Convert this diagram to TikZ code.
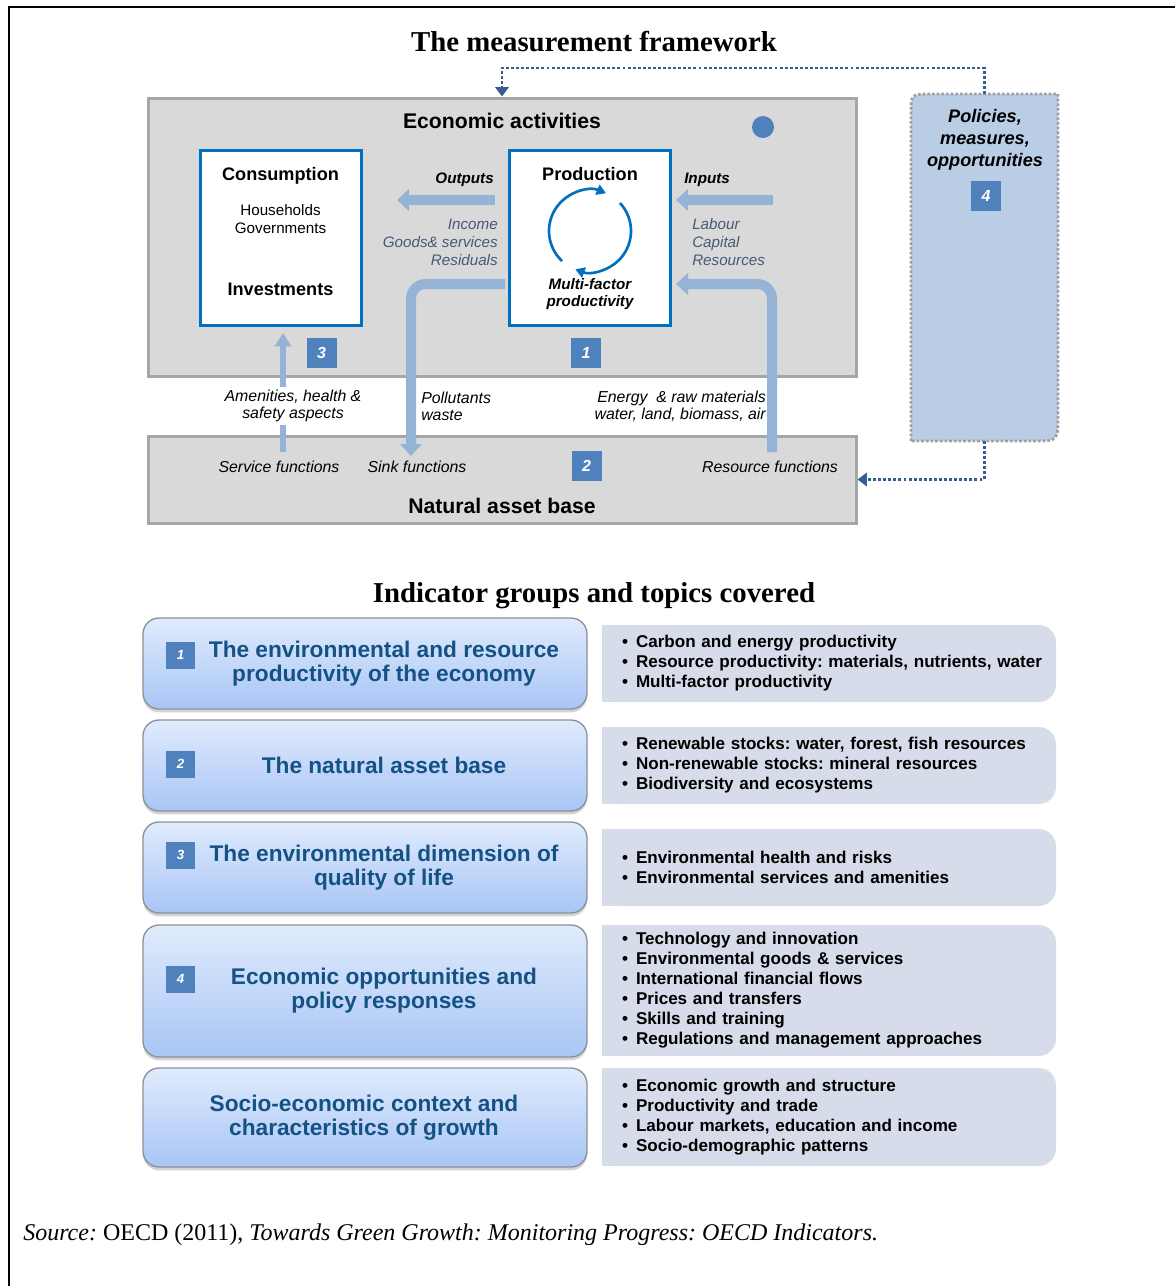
\documentclass[tikz,border=0pt]{standalone}
\usepackage{fontspec}
\setmainfont{Liberation Serif}
\setsansfont{Liberation Sans}
\usetikzlibrary{arrows.meta,shadows}
\frenchspacing

\definecolor{grigio}{RGB}{217,217,217}
\definecolor{bordogrigio}{RGB}{166,166,166}
\definecolor{bordoblu}{RGB}{0,112,192}
\definecolor{badgeblu}{RGB}{79,129,189}
\definecolor{frecce}{RGB}{149,179,215}
\definecolor{polfill}{RGB}{185,205,229}
\definecolor{polbordo}{RGB}{160,160,160}
\definecolor{linkblu}{RGB}{54,95,145}
\definecolor{testoblu}{RGB}{72,88,120}
\definecolor{gruppoblu}{RGB}{21,82,132}
\definecolor{gruppoalto}{RGB}{224,235,253}
\definecolor{gruppobasso}{RGB}{168,197,245}
\definecolor{bordogruppo}{RGB}{140,144,152}
\definecolor{temafill}{RGB}{214,220,233}

\newcommand{\punto}[1]{\mbox{\makebox[10.5pt][l]{•}#1}}

\tikzset{
    testo/.style={inner sep=0pt, font=\sffamily\fontsize{11.4}{13.5}\selectfont},
    testoit/.style={testo, font=\sffamily\itshape\fontsize{11.4}{13.5}\selectfont},
    testomedio/.style={testo, font=\sffamily\itshape\fontsize{11.9}{12.75}\selectfont},
    testobi/.style={testo, font=\sffamily\bfseries\itshape\fontsize{11.4}{12.75}\selectfont},
    nome/.style={testo, font=\sffamily\bfseries\fontsize{13.6}{16.5}\selectfont},
    intestazione/.style={testo, font=\sffamily\bfseries\fontsize{15.9}{19}\selectfont},
    titolo/.style={inner sep=0pt, font=\rmfamily\bfseries\fontsize{21.6}{26}\selectfont},
    riquadro/.style={draw=bordogrigio, line width=2.25pt, fill=grigio, minimum width=531pt},
    blocco/.style={draw=bordoblu, line width=2.25pt, fill=white, minimum width=120.75pt, minimum height=131.25pt},
    badge/.style={fill=badgeblu, text=white, minimum size=22.5pt, inner sep=0pt,
        font=\sffamily\bfseries\itshape\fontsize{12}{12}\selectfont},
    badgepiccolo/.style={badge, minimum size=0pt, minimum width=21.75pt, minimum height=20.25pt,
        font=\sffamily\bfseries\itshape\fontsize{10}{10}\selectfont},
    freccia/.style={frecce, line width=7.5pt, -{Triangle[width=16pt,length=9pt]}},
    freccina/.style={frecce, line width=4.5pt, -{Triangle[width=12pt,length=10pt]}},
    tubo/.style={freccia, rounded corners=11pt},
    ciclo/.style={bordoblu, line width=2pt, -{Triangle[width=8pt,length=7pt]}},
    puntini/.style={linkblu, line width=2.2pt, dash pattern=on 2.2pt off 1.6pt, -{Triangle[width=10pt,length=7pt]}},
    gruppo/.style={draw=bordogruppo, line width=1pt, rounded corners=12pt, top color=gruppoalto,
        bottom color=gruppobasso, minimum width=333pt,
        drop shadow={opacity=0.35, shadow xshift=0pt, shadow yshift=-2.5pt}},
    gruppotxt/.style={inner sep=0pt, align=center, text=gruppoblu, font=\sffamily\bfseries\fontsize{17}{18}\selectfont},
    tema/.style={fill=temafill, rounded corners=13pt, minimum width=340.5pt, inner xsep=15pt, text width=310.5pt,
        align=left, font=\sffamily\bfseries\fontsize{12.8}{15}\selectfont},
}

\begin{document}
\begin{tikzpicture}[x=0.75pt, y=-0.75pt]
    \useasboundingbox (0,0) rectangle (1175,1286);

    %cornice
    \draw[line width=2pt] (9,1286) -- (9,7) -- (1175,7);

    \node[titolo] (titolo1) at (594,42) {The measurement framework};

    %riquadri grigi
    \node[riquadro, minimum height=208.5pt] (econ) at (502,237) {};
    \node[riquadro, minimum height=65.25pt] (nat) at (502,479.5) {};
    \node[intestazione] (ectitolo) at (502,121) {Economic activities};
    \node[circle, fill=badgeblu, minimum size=16.5pt, inner sep=0pt] (pallino) at (763,127) {};
    \node[intestazione] (nattitolo) at (502,506) {Natural asset base};

    %politiche
    \node[minimum width=110.25pt, minimum height=260.25pt, outer sep=0pt] (pol) at (984.5,267.5) {};
    \draw[polbordo, fill=polfill, line width=2.2pt, dash pattern=on 2pt off 1.5pt]
        (pol.south west) -- ([yshift=-15pt]pol.north west) .. controls (pol.north west) .. ([xshift=15pt]pol.north west)
        -- (pol.north east) -- ([yshift=19pt]pol.south east) .. controls (pol.south east) .. ([xshift=-19pt]pol.south east)
        -- cycle;
    \node[testo, align=center, font=\sffamily\bfseries\itshape\fontsize{13.6}{16.5}\selectfont] (poltxt) at (985,140)
        {Policies,\\measures,\\opportunities};
    \draw[puntini] (pol.north) -- ++(0,-26) -| (econ.north);
    \draw[puntini] (pol.south) |- (nat.east);

    %consumo e produzione
    \node[blocco] (cons) at (280.5,237.5) {};
    \node[blocco] (prod) at (590,237.5) {};
    \node[nome] (constit) at (280.5,176) {Consumption};
    \node[testo, align=center] (consdett) at (280.5,219) {Households\\Governments};
    \node[nome] (invest) at (280.5,289) {Investments};
    \node[nome] (prodtit) at (590,174) {Production};
    \node[testobi, align=center] (mfptxt) at (590,294.5) {Multi-factor\\productivity};

    %ciclo
    \coordinate (mfp) at (590,231);
    \draw[ciclo] ([shift={(227:30.75pt)}]mfp) arc[start angle=227, end angle=67, radius=30.75pt];
    \draw[ciclo] ([shift={(43:30.75pt)}]mfp) arc[start angle=43, end angle=-111, radius=30.75pt];

    %frecce
    \coordinate (outA) at (495,200);
    \coordinate (outB) at (397,200);
    \coordinate (inA) at (773,200);
    \coordinate (inB) at (676,200);
    \draw[freccia] (outA) -- (outB);
    \draw[freccia] (inA) -- (inB);
    \coordinate (pozzo) at (505,284);
    \coordinate (sinkend) at (411,456);
    \draw[tubo] (pozzo) -| (sinkend);
    \coordinate (risorse) at (772,452);
    \coordinate (inend) at (676,284);
    \draw[tubo] (risorse) |- (inend);
    \coordinate (servbase) at (283,452);
    \coordinate (amtop) at (283,333);
    \draw[freccina] (servbase) -- (amtop);

    \node[testobi, anchor=east] (outlab) at (494,180) {Outputs};
    \node[testoit, text=testoblu, align=right, anchor=east] (outlist) at (498,242) {Income\\Goods\& services\\Residuals};
    \node[testobi, anchor=west] (inlab) at (684,180) {Inputs};
    \node[testoit, text=testoblu, align=left, anchor=west] (inlist) at (692,242) {Labour\\Capital\\Resources};

    %etichette tra i riquadri
    \node[testomedio, fill=white, inner sep=2pt, align=center] (amen) at (293,406) {Amenities, health \&\\safety aspects};
    \node[testomedio, align=left, anchor=west] (pollut) at (421,406) {Pollutants\\waste};
    \node[testomedio, align=right, anchor=east] (energia) at (766,406) {Energy\ \ \& raw materials\\water, land, biomass, air};
    \node[testomedio] (servizi) at (279,467) {Service functions};
    \node[testomedio] (pozzi) at (417,467) {Sink functions};
    \node[testomedio] (fonti) at (770,467) {Resource functions};

    \node[badge] (b3) at (321.5,352.5) {3};
    \node[badge] (b1) at (586,353) {1};
    \node[badge] (b2) at (586.5,466) {2};
    \node[badge] (b4) at (986,196) {4};

    %gruppi di indicatori
    \node[titolo] (titolo2) at (594,596) {Indicator groups and topics covered};

    \node[gruppo, minimum height=68.25pt] (g1) at (365,663.5) {};
    \node[gruppo, minimum height=68.25pt] (g2) at (365,765.5) {};
    \node[gruppo, minimum height=68.25pt] (g3) at (365,867.5) {};
    \node[gruppo, minimum height=99pt] (g4) at (365,991) {};
    \node[gruppo, minimum height=74.25pt] (g5) at (365,1117.5) {};
    \node[gruppotxt] (g1t) at (384,664) {The environmental and resource\\productivity of the economy};
    \node[gruppotxt] (g2t) at (384,765) {The natural asset base};
    \node[gruppotxt] (g3t) at (384,867.5) {The environmental dimension of\\quality of life};
    \node[gruppotxt] (g4t) at (384,990.5) {Economic opportunities and\\policy responses};
    \node[gruppotxt] (g5t) at (364,1117.5) {Socio-economic context and\\characteristics of growth};
    \node[badgepiccolo] (bg1) at (180.5,655) {1};
    \node[badgepiccolo] (bg2) at (180.5,764) {2};
    \node[badgepiccolo] (bg3) at (180.5,855) {3};
    \node[badgepiccolo] (bg4) at (180.5,979) {4};

    %temi
    \fill[temafill] (602,625) rectangle (700,702);
    \fill[temafill] (602,727) rectangle (700,804);
    \fill[temafill] (602,829) rectangle (700,906);
    \fill[temafill] (602,925) rectangle (700,1056);
    \fill[temafill] (602,1068) rectangle (700,1166);
    \node[tema, minimum height=57.75pt] (t1) at (829,663.5) {\punto{Carbon and energy productivity}\\
        \punto{Resource productivity: materials, nutrients, water}\\\punto{Multi-factor productivity}};
    \node[tema, minimum height=57.75pt] (t2) at (829,765.5) {\punto{Renewable stocks: water, forest, fish resources}\\
        \punto{Non-renewable stocks: mineral resources}\\\punto{Biodiversity and ecosystems}};
    \node[tema, minimum height=57.75pt] (t3) at (829,867.5) {\punto{Environmental health and risks}\\
        \punto{Environmental services and amenities}};
    \node[tema, minimum height=98.25pt] (t4) at (829,990.5) {\punto{Technology and innovation}\\
        \punto{Environmental goods \& services}\\\punto{International financial flows}\\
        \punto{Prices and transfers}\\\punto{Skills and training}\\\punto{Regulations and management approaches}};
    \node[tema, minimum height=73.5pt] (t5) at (829,1117) {\punto{Economic growth and structure}\\
        \punto{Productivity and trade}\\\punto{Labour markets, education and income}\\\punto{Socio-demographic patterns}};

    \node[testo, anchor=west, font=\rmfamily\fontsize{18}{22}\selectfont] (fonte) at (23,1235)
        {\textit{Source:} OECD (2011), \textit{Towards Green Growth: Monitoring Progress: OECD Indicators.}};
\end{tikzpicture}
\end{document}
